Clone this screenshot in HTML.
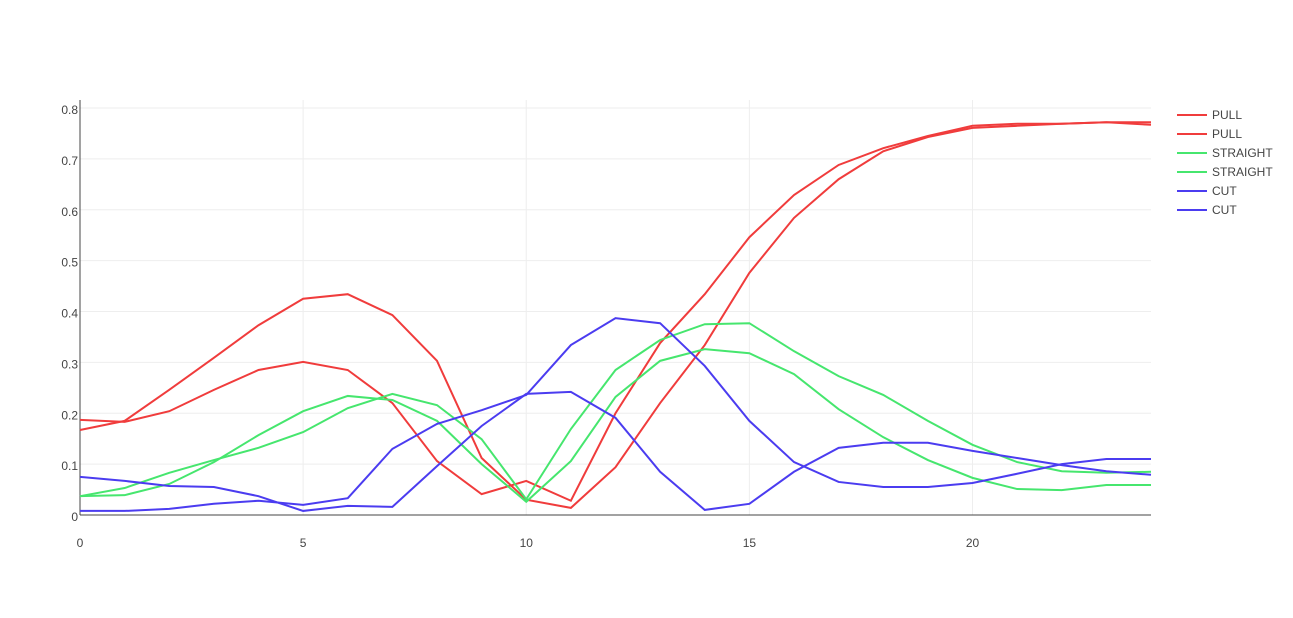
<!DOCTYPE html>
<html><head><meta charset="utf-8"><style>
body{margin:0;background:#fff;font-family:"Liberation Sans",sans-serif;}
svg text{font-family:"Liberation Sans",sans-serif;font-size:12px;fill:#444;}
</style></head><body>
<svg id="chart" width="1293" height="613"></svg>
<script>
const xs=[0,1,2,3,4,5,6,7,8,9,10,11,12,13,14,15,16,17,18,19,20,21,22,23,24];
const pullA=[0.167,0.185,0.246,0.309,0.373,0.425,0.434,0.393,0.303,0.112,0.03,0.014,0.094,0.22,0.334,0.476,0.584,0.66,0.715,0.743,0.761,0.765,0.769,0.772,0.772];
const pullB=[0.187,0.183,0.204,0.246,0.285,0.301,0.285,0.22,0.106,0.041,0.067,0.028,0.2,0.338,0.434,0.546,0.629,0.688,0.721,0.745,0.765,0.769,0.769,0.772,0.767];
const straightA=[0.037,0.039,0.061,0.104,0.157,0.204,0.234,0.226,0.185,0.1,0.026,0.106,0.232,0.303,0.326,0.318,0.277,0.208,0.153,0.108,0.073,0.051,0.049,0.059,0.059];
const straightB=[0.037,0.053,0.083,0.108,0.132,0.163,0.21,0.238,0.216,0.149,0.031,0.169,0.285,0.344,0.375,0.377,0.322,0.273,0.236,0.185,0.138,0.104,0.086,0.083,0.085];
const cutA=[0.075,0.067,0.057,0.055,0.037,0.008,0.018,0.016,0.096,0.175,0.238,0.242,0.191,0.085,0.01,0.022,0.085,0.132,0.142,0.142,0.126,0.112,0.098,0.086,0.079];
const cutB=[0.008,0.008,0.012,0.022,0.028,0.02,0.033,0.13,0.179,0.206,0.236,0.334,0.387,0.377,0.293,0.185,0.104,0.065,0.055,0.055,0.063,0.081,0.1,0.11,0.11];
const xTicks=[0,5,10,15,20];
const yTicks=[0,0.1,0.2,0.3,0.4,0.5,0.6,0.7,0.8];
const seriesNames=["PULL","PULL","STRAIGHT","STRAIGHT","CUT","CUT"];
const seriesColors=["#f03c3c","#f03c3c","#46e66e","#46e66e","#4b3cf0","#4b3cf0"];
const seriesData=[pullA,pullB,straightA,straightB,cutA,cutB];

const L=80,R=1151,T=100,B=515;
const X=v=>L+(v-0)/24*(R-L);
const Y=v=>B-v/0.8*(B-108);
const svg=document.getElementById('chart');
const NS='http://www.w3.org/2000/svg';
function mk(tag,attrs){const e=document.createElementNS(NS,tag);for(const k in attrs)e.setAttribute(k,attrs[k]);svg.appendChild(e);return e;}
xTicks.forEach(t=>{
  const g=mk('line',{x1:X(t),x2:X(t),y1:T,y2:B,stroke:'#eee'});
  
  
  const tx=mk('text',{x:X(t),y:547,'text-anchor':'middle'});tx.textContent=t;
  
  
});
yTicks.forEach(t=>{
  const g=mk('line',{x1:L,x2:R,y1:Y(t),y2:Y(t),stroke:'#eee'});
  
  
  const tx=mk('text',{x:78,y:Y(t)+6,'text-anchor':'end'});tx.textContent=t;
  
  
});
const ax=mk('line',{x1:L,x2:L,y1:T,y2:B,stroke:'#444'});


const ax2=mk('line',{x1:L,x2:R,y1:B,y2:B,stroke:'#444'});


seriesData.forEach((d,i)=>{
  const p=mk('polyline',{points:d.map((v,j)=>X(xs[j])+','+Y(v)).join(' '),fill:'none',stroke:seriesColors[i],'stroke-width':2});
  
  
  const ly=115+i*19;
  const ll=mk('line',{x1:1177,x2:1207,y1:ly,y2:ly,stroke:seriesColors[i],'stroke-width':2});
  
  
  const lt=mk('text',{x:1212,y:ly+4});lt.textContent=seriesNames[i];
  
  
});
</script>
</body></html>
